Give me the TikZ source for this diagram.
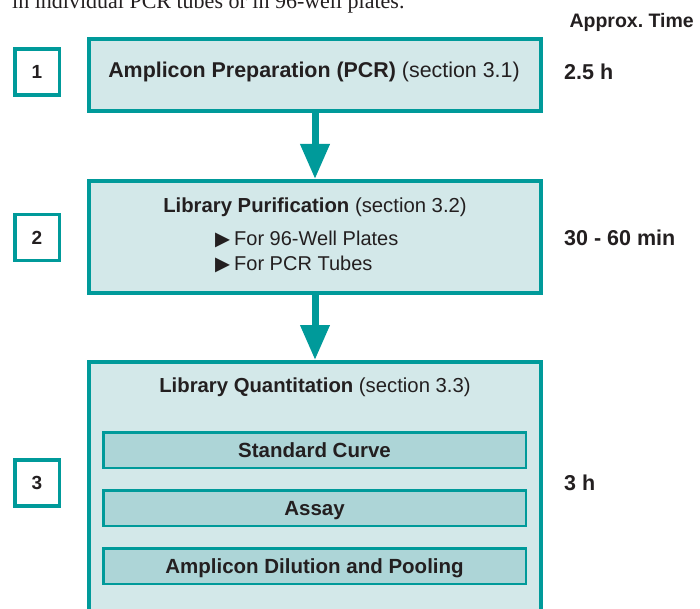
\documentclass[tikz,border=0pt]{standalone}
\usepackage{fontspec}
\setmainfont{Liberation Sans}
\newfontfamily\seriffont{Liberation Serif}
\newfontfamily\symfont{DejaVu Sans}
\usetikzlibrary{arrows.meta}
\definecolor{teal1}{HTML}{009A9A}
\definecolor{lightfill}{HTML}{D3E8E9}
\definecolor{subfill}{HTML}{ADD5D7}
\definecolor{ink}{HTML}{231F20}
\tikzset{
  bigbox/.style={draw=teal1, line width=4pt, fill=lightfill, minimum width=452pt, inner sep=0pt},
  subbox/.style={draw=teal1, line width=2.5pt, fill=subfill, minimum width=422.5pt, minimum height=35.5pt, inner sep=0pt, text height=14.5pt, text depth=0pt, font=\fontsize{20.5}{22}\selectfont\bfseries, text=ink},
  numbox/.style={draw=teal1, line width=3.5pt, fill=white, minimum width=44.5pt, minimum height=46pt, inner sep=0pt, text height=13.7pt, text depth=0pt, font=\fontsize{19}{20}\selectfont\bfseries, text=ink},
  txt/.style={inner sep=0pt, text=ink, anchor=base, font=\fontsize{20.3}{22}\selectfont},
  timetxt/.style={inner sep=0pt, text=ink, anchor=base west, font=\fontsize{21.5}{24}\selectfont\bfseries},
  flowarrow/.style={draw=teal1, line width=7pt, -{Triangle[width=28pt,length=35pt]}},
}
\newcommand{\bulletmark}{{\symfont\fontsize{19.5}{20}\selectfont ▶}\hspace{4pt}}
\begin{document}
\begin{tikzpicture}[x=1pt,y=-1pt]
\useasboundingbox (0,0) rectangle (700,609);
\begin{scope}
\clip (0,0) rectangle (700,609);
\node[inner sep=0pt, anchor=base west, text=ink, font=\seriffont\fontsize{22}{24}\selectfont] (intro) at (12,9) {in individual PCR tubes or in 96-well plates.};
\node[bigbox, minimum height=72pt] (b1) at (315,75) {};
\node[bigbox, minimum height=112pt] (b2) at (315,237) {};
\node[bigbox, minimum height=278pt] (b3) at (315,501) {};
\end{scope}
\node[txt, font=\fontsize{21.4}{24}\selectfont] (t1) at (314,78) {\textbf{Amplicon Preparation (PCR)} (section 3.1)};
\node[txt] (t2) at (315,212.7) {\textbf{Library Purification} (section 3.2)};
\node[txt, anchor=base west, font=\fontsize{20}{22}\selectfont] (bl1) at (215,245) {\bulletmark For 96-Well Plates};
\node[txt, anchor=base west, font=\fontsize{20}{22}\selectfont] (bl2) at (215,270) {\bulletmark For PCR Tubes};
\node[txt] (t3) at (315,392.3) {\textbf{Library Quantitation} (section 3.3)};
\node[subbox] (s1) at (314.5,450) {Standard Curve};
\node[subbox] (s2) at (314.5,508) {Assay};
\node[subbox] (s3) at (314.5,566) {Amplicon Dilution and Pooling};
\node[numbox] (n1) at (37,72) {1};
\node[numbox] (n2) at (37,237.5) {2};
\node[numbox] (n3) at (37,483) {3};
\node[inner sep=0pt, anchor=base east, text=ink, font=\fontsize{19.5}{22}\selectfont\bfseries] (hdr) at (694,27.3) {Approx.\ Time};
\node[timetxt] (tm1) at (564,80) {2.5 h};
\node[timetxt] (tm2) at (564,245.5) {30 - 60 min};
\node[timetxt] (tm3) at (564,490.5) {3 h};
\draw[flowarrow] (b1.south) -- (b2.north);
\draw[flowarrow] (b2.south) -- (b3.north);
\end{tikzpicture}
\end{document}
